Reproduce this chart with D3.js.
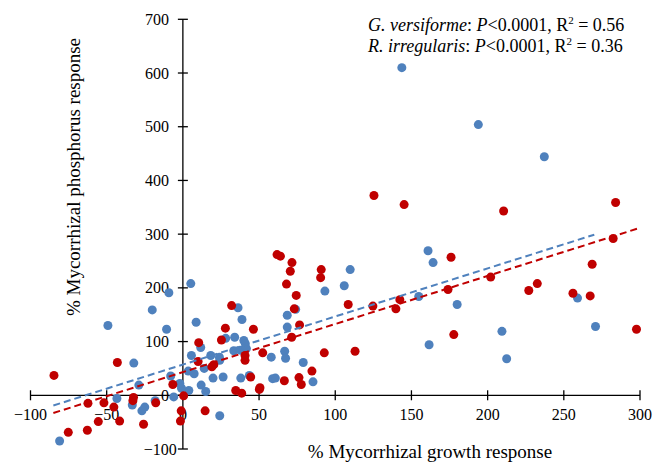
<!DOCTYPE html>
<html>
<head>
<meta charset="utf-8">
<script src="https://cdn.jsdelivr.net/npm/d3@7"></script>
<style>
body { margin: 0; background: #fff; }
</style>
</head>
<body>
<svg id="chart" width="654" height="462"></svg>
<script>
var xTicks = [-100, -50, 0, 50, 100, 150, 200, 250, 300];
var yTicks = [-100, 0, 100, 200, 300, 400, 500, 600, 700];

// G. versiforme (blue)
var versiforme = [
  [143.7, 610], [193.9, 504], [237.2, 444], [160.9, 269], [164.2, 247], [180, 169],
  [154.8, 184], [259, 181], [270.8, 128], [209.4, 119], [161.6, 94], [212.5, 68],
  [109.8, 234], [105.9, 204], [93.2, 194], [74, 160], [68.5, 149], [68.5, 127],
  [79, 61], [85.4, 25], [5.2, 208], [36.2, 163], [-9.2, 191], [-20.1, 159],
  [-10.7, 123], [38.8, 141], [8.7, 136], [28.1, 106], [11.7, 89], [34, 108],
  [40, 102], [41, 96], [33.4, 83], [37.7, 84], [41.7, 87], [58, 71], [66.8, 82],
  [67.4, 69], [5.6, 74], [18.3, 74], [24, 71], [14, 50], [24.2, 65], [3.5, 45],
  [7.4, 40], [19.8, 32], [26.4, 34], [38, 32], [43.6, 37], [58.9, 31], [60.7, 32],
  [12, 19], [15, 7], [3.9, 9], [-0.9, 13], [-2, 22], [-6, -3], [24.2, -38], [-8, 36],
  [-49.2, 130], [-32.2, 60], [-28.9, 19], [-18.2, -10], [-43.3, -6], [-33.2, -18],
  [-25, -22], [-26.9, -29], [-80.9, -85]
];

// R. irregularis (red)
var irregularis = [
  [125.4, 372], [145.2, 355], [210.5, 343], [284, 359], [282.4, 292], [176, 257],
  [202, 220], [227, 195], [232.6, 208], [268.6, 244], [256, 190], [267.3, 185],
  [174, 197], [142.4, 178], [139.8, 161], [124.7, 166], [297.7, 123], [177.8, 113],
  [71.6, 247], [70.5, 231], [90.8, 234], [90.4, 219], [74.4, 186], [73.1, 161],
  [108.5, 169], [76.6, 131], [71.4, 108], [92.8, 79], [113, 82], [84.7, 45],
  [76.2, 33], [77.7, 20], [61.8, 262], [64, 259], [68, 207], [32, 167], [27.9, 125],
  [46.3, 123], [25.3, 103], [10.4, 98], [40.8, 74], [40.8, 65], [52.4, 79], [10, 63],
  [19, 53], [20.3, 57], [44.5, 34], [66.6, 27], [50.6, 14], [50.2, 11], [34.7, 9],
  [38.6, 4], [0.5, -1], [-6.6, 20], [14.6, -29], [-1.6, -48], [-1.1, -29],
  [-17.8, -14], [-43, 61], [-84.6, 37], [-32.4, -4], [-32.8, -10], [-51.8, -14],
  [-62.3, -15], [-45.3, -22], [-41.5, -48], [-55.5, -49], [-25.8, -54], [-62.7, -65],
  [-75.2, -69]
];

// dashed linear fits
var versiformeFit = [[-85, -19], [270, 299]];
var irregularisFit = [[-85, -33], [298, 310]];

var blue = "#4f81bd";
var red = "#c00000";
var serif = "Liberation Serif";

var svg = d3.select("#chart");

var x = d3.scaleLinear().domain([-100, 300]).range([30.5, 640]);
var y = d3.scaleLinear().domain([-100, 700]).range([449, 19.3]);

var fmt = function(d) { return String(d).replace("-", "\u2212"); };

// horizontal axis at y = 0
var xAxis = svg.append("g").attr("transform", "translate(0," + y(0) + ")");
xAxis.append("line")
  .attr("x1", x(-100)).attr("x2", x(300))
  .attr("stroke", "#000").attr("stroke-width", 1.3);
xAxis.selectAll(".xt").data(xTicks).enter().append("line")
  .attr("x1", function(d) { return x(d); }).attr("x2", function(d) { return x(d); })
  .attr("y1", -5).attr("y2", 5)
  .attr("stroke", "#000").attr("stroke-width", 1.3);
xAxis.selectAll(".xl").data(xTicks).enter().append("text")
  .attr("x", function(d) { return x(d); })
  .attr("y", 25)
  .attr("text-anchor", "middle")
  .style("font-family", serif)
  .style("font-size", "16px")
  .text(fmt);

// vertical axis at x = 0
var yAxis = svg.append("g").attr("transform", "translate(" + x(0) + ",0)");
yAxis.append("line")
  .attr("y1", y(-100)).attr("y2", y(700))
  .attr("stroke", "#000").attr("stroke-width", 1.3);
yAxis.selectAll(".yt").data(yTicks).enter().append("line")
  .attr("y1", function(d) { return y(d); }).attr("y2", function(d) { return y(d); })
  .attr("x1", -5).attr("x2", 5)
  .attr("stroke", "#000").attr("stroke-width", 1.3);
yAxis.selectAll(".yl").data(yTicks).enter().append("text")
  .attr("x", function(d) { return d < 0 ? -6 : -14; })
  .attr("y", function(d) { return y(d) + 5.5; })
  .attr("text-anchor", "end")
  .style("font-family", serif)
  .style("font-size", "16px")
  .text(fmt);

// points
svg.append("g").selectAll("circle").data(versiforme).enter().append("circle")
  .attr("cx", function(d) { return x(d[0]); })
  .attr("cy", function(d) { return y(d[1]); })
  .attr("r", 4.5)
  .attr("fill", blue);

svg.append("g").selectAll("circle").data(irregularis).enter().append("circle")
  .attr("cx", function(d) { return x(d[0]); })
  .attr("cy", function(d) { return y(d[1]); })
  .attr("r", 4.5)
  .attr("fill", red);

// fits
var line = d3.line()
  .x(function(d) { return x(d[0]); })
  .y(function(d) { return y(d[1]); });

svg.append("path").datum(versiformeFit)
  .attr("d", line)
  .attr("fill", "none").attr("stroke", blue)
  .attr("stroke-width", 2).attr("stroke-dasharray", "7,4");

svg.append("path").datum(irregularisFit)
  .attr("d", line)
  .attr("fill", "none").attr("stroke", red)
  .attr("stroke-width", 2).attr("stroke-dasharray", "7,4");

// axis titles
svg.append("text")
  .attr("x", 430).attr("y", 458)
  .attr("text-anchor", "middle")
  .style("font-family", serif)
  .style("font-size", "19px")
  .text("% Mycorrhizal growth response");

svg.append("text")
  .attr("transform", "translate(80,177) rotate(-90)")
  .attr("text-anchor", "middle")
  .style("font-family", serif)
  .style("font-size", "19px")
  .text("% Mycorrhizal phosphorus response");

// stats
var stats = [
  { name: "G. versiforme", p: "<0.0001, R", r2: "0.56" },
  { name: "R. irregularis", p: "<0.0001, R", r2: "0.36" }
];

stats.forEach(function(s, i) {
  var t = svg.append("text")
    .attr("x", 368).attr("y", 31 + i * 21)
    .style("font-family", serif)
    .style("font-size", "18px");
  t.append("tspan").attr("font-style", "italic").text(s.name);
  t.append("tspan").text(": ");
  t.append("tspan").attr("font-style", "italic").text("P");
  t.append("tspan").text(s.p);
  t.append("tspan").style("font-size", "11px").attr("dy", -7).text("2");
  t.append("tspan").attr("dy", 7).text(" = " + s.r2);
});
</script>
</body>
</html>
